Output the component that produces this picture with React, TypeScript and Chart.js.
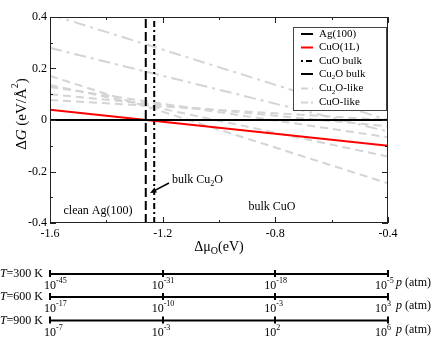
import React, { useEffect, useRef } from 'react';
import { Chart, registerables } from 'chart.js';

Chart.register(...registerables);

// ---- data ----
const MU_RANGE = [-1.6, -0.4];
const AG100 = [0, 0];
const CUO_1L = [0.04, -0.1];
const CUO_BULK_MU = -1.23;
const CU2O_BULK_MU = -1.26;
const CU2O_LIKE_START = [0.078, 0.1, 0.128, 0.136, 0.171];
const CU2O_LIKE_END = [0.0, -0.025, -0.067, -0.142, -0.246];
const CUO_LIKE_START = [0.41, 0.28];
const CUO_LIKE_END = [0.0, -0.045];
const X_TICKS = [-1.6, -1.2, -0.8, -0.4];
const Y_RANGE = [-0.4, 0.4];
const TEMPS = ['300', '600', '900'];
const P_EXP_300 = ['-45', '-31', '-18', '-5'];
const P_EXP_600 = ['-17', '-10', '-3', '3'];
const P_EXP_900 = ['-7', '-3', '2', '6'];
const LEGEND_LABELS = ['Ag(100)', 'CuO(1L)', 'CuO bulk', 'Cu2O bulk', 'Cu2O-like', 'CuO-like'];

const FONT = '"Liberation Serif", "Times New Roman", serif';
const GRAY = '#d4d4d4';

type Part = { t: string; s?: 'sub' | 'sup'; i?: boolean; z?: number };

function fontFor(p: Part, size: number) {
  const sz = p.z ? p.z : p.s ? Math.round(size * 0.68) : size;
  return `${p.i ? 'italic ' : ''}${sz}px ${FONT}`;
}
function richWidth(ctx: CanvasRenderingContext2D, parts: Part[], size: number) {
  let w = 0;
  for (const p of parts) {
    ctx.font = fontFor(p, size);
    w += ctx.measureText(p.t).width;
  }
  return w;
}
function drawRich(ctx: CanvasRenderingContext2D, parts: Part[], x: number, y: number, size: number, align: 'left' | 'center' | 'right' = 'left') {
  const total = richWidth(ctx, parts, size);
  let cx = align === 'center' ? x - total / 2 : align === 'right' ? x - total : x;
  ctx.textAlign = 'left';
  ctx.textBaseline = 'middle';
  for (const p of parts) {
    ctx.font = fontFor(p, size);
    const dy = p.s === 'sub' ? size * 0.3 : p.s === 'sup' ? -size * 0.42 : 0;
    ctx.fillText(p.t, cx, y + dy);
    cx += ctx.measureText(p.t).width;
  }
}
function labelParts(label: string): Part[] {
  if (label.startsWith('Cu2O')) return [{ t: 'Cu' }, { t: '2', s: 'sub' }, { t: 'O' + label.slice(4) }];
  return [{ t: label }];
}

const seg = (a: number, b: number) => [
  { x: MU_RANGE[0], y: a },
  { x: MU_RANGE[1], y: b },
];
const vert = (mu: number) => [
  { x: mu, y: Y_RANGE[0] },
  { x: mu, y: Y_RANGE[1] },
];

const DASH_CUO_BULK = [6, 3, 2, 3];
const DASH_CU2O_BULK = [9, 4];
const DASH_CU2O_LIKE = [8, 5];
const DASH_CUO_LIKE = [12, 5, 3, 5];

const overlay = {
  id: 'overlay',
  afterDraw(chart: any) {
    const ctx: CanvasRenderingContext2D = chart.ctx;
    const xs = chart.scales.x;
    const ys = chart.scales.y;
    const { left, right, top, bottom } = chart.chartArea;
    ctx.save();
    // frame
    ctx.strokeStyle = '#222';
    ctx.lineWidth = 1;
    ctx.strokeRect(left + 0.5, top + 0.5, right - left - 1, bottom - top - 1);
    // ticks
    ctx.beginPath();
    for (let k = 0; k <= 6; k++) {
      const v = MU_RANGE[0] + k * 0.2;
      const px = Math.round(xs.getPixelForValue(v)) + 0.5;
      const len = k % 2 === 0 ? 6 : 3;
      ctx.moveTo(px, bottom);
      ctx.lineTo(px, bottom - len);
      ctx.moveTo(px, top);
      ctx.lineTo(px, top + len);
    }
    for (let k = 0; k <= 8; k++) {
      const v = Y_RANGE[0] + k * 0.1;
      const py = Math.round(ys.getPixelForValue(v)) + 0.5;
      const len = k % 2 === 0 ? 6 : 3;
      ctx.moveTo(left, py);
      ctx.lineTo(left + len, py);
      ctx.moveTo(right, py);
      ctx.lineTo(right - len, py);
    }
    ctx.stroke();

    ctx.fillStyle = '#000';
    // axis titles
    drawRich(ctx, [{ t: 'Δμ' }, { t: 'O', s: 'sub' }, { t: '(eV)' }], (left + right) / 2, bottom + 24, 14, 'center');
    ctx.save();
    ctx.translate(22, (top + bottom) / 2 - 6);
    ctx.rotate(-Math.PI / 2);
    drawRich(ctx, [{ t: 'Δ' }, { t: 'G', i: true }, { t: ' (eV/Å' }, { t: '2', s: 'sup' }, { t: ')' }], 0, 0, 15, 'center');
    ctx.restore();

    // annotations
    drawRich(ctx, [{ t: 'clean Ag(100)' }], 98, 211, 12, 'center');
    drawRich(ctx, [{ t: 'bulk CuO' }], 272, 207, 12, 'center');
    drawRich(ctx, [{ t: 'bulk Cu' }, { t: '2', s: 'sub' }, { t: 'O' }], 172, 180, 12, 'left');
    // arrow
    const ax0 = 169, ay0 = 183, ax1 = 150, ay1 = 193;
    ctx.strokeStyle = '#000';
    ctx.lineWidth = 1.5;
    ctx.beginPath();
    ctx.moveTo(ax0, ay0);
    ctx.lineTo(ax1 + 3, ay1 - 1.6);
    ctx.stroke();
    const ang = Math.atan2(ay1 - ay0, ax1 - ax0);
    ctx.beginPath();
    ctx.moveTo(ax1, ay1);
    ctx.lineTo(ax1 - 7 * Math.cos(ang - 0.4), ay1 - 7 * Math.sin(ang - 0.4));
    ctx.lineTo(ax1 - 7 * Math.cos(ang + 0.4), ay1 - 7 * Math.sin(ang + 0.4));
    ctx.closePath();
    ctx.fill();

    // legend
    const lx = 293, ly = 27, lw = 94, lh = 84;
    ctx.fillStyle = '#fff';
    ctx.fillRect(lx, ly, lw, lh);
    ctx.strokeStyle = '#444';
    ctx.lineWidth = 1;
    ctx.strokeRect(lx + 0.5, ly + 0.5, lw - 1, lh - 1);
    const rowY = [34, 47.5, 61, 74, 88.5, 102.5];
    const legendStyles = [
      { c: '#000', d: [] as number[] },
      { c: '#ff0000', d: [] as number[] },
      { c: '#000', d: [2, 3, 6, 3] },
      { c: '#000', d: [] as number[] },
      { c: GRAY, d: [7, 4] },
      { c: GRAY, d: [7, 3, 3, 3] },
    ];
    LEGEND_LABELS.forEach((lab, i) => {
      ctx.strokeStyle = legendStyles[i].c;
      ctx.lineWidth = 2;
      ctx.setLineDash(legendStyles[i].d);
      ctx.beginPath();
      ctx.moveTo(301, rowY[i]);
      ctx.lineTo(313, rowY[i]);
      ctx.stroke();
      ctx.setLineDash([]);
      ctx.fillStyle = '#000';
      drawRich(ctx, labelParts(lab), 319, rowY[i], 11, 'left');
    });

    // pressure scales
    const rows = [P_EXP_300, P_EXP_600, P_EXP_900];
    const rowOffsets = [51, 74, 97.5];
    rows.forEach((exps, r) => {
      const yy = bottom + rowOffsets[r];
      const x0 = xs.getPixelForValue(MU_RANGE[0]);
      const x1 = xs.getPixelForValue(MU_RANGE[1]);
      ctx.strokeStyle = '#000';
      ctx.lineWidth = 2;
      ctx.beginPath();
      ctx.moveTo(x0, yy);
      ctx.lineTo(x1, yy);
      X_TICKS.forEach((v) => {
        const px = Math.round(xs.getPixelForValue(v));
        ctx.moveTo(px, yy - 4);
        ctx.lineTo(px, yy + 3);
      });
      ctx.stroke();
      ctx.fillStyle = '#000';
      X_TICKS.forEach((v, i) => {
        const px = xs.getPixelForValue(v);
        ctx.font = `12px ${FONT}`;
        const w10 = ctx.measureText('10').width;
        const shift = i === 0 ? 6 : i === X_TICKS.length - 1 ? -1 : 1;
        const start = px + shift - w10;
        drawRich(ctx, [{ t: '10' }, { t: exps[i], s: 'sup', z: 8 }], start, yy + 12, 12, 'left');
      });
      drawRich(ctx, [{ t: 'T', i: true }, { t: '=' + TEMPS[r] + ' K' }], 43, yy, 12, 'right');
      drawRich(ctx, [{ t: 'p', i: true }, { t: ' (atm)' }], 396, yy + 9, 12, 'left');
    });
    ctx.restore();
  },
};

export default function App() {
  const ref = useRef<HTMLCanvasElement | null>(null);
  useEffect(() => {
    if (!ref.current) return;
    const base = { pointRadius: 0, borderWidth: 2, fill: false, tension: 0 };
    const datasets: any[] = [
      { ...base, label: LEGEND_LABELS[0], data: seg(AG100[0], AG100[1]), borderColor: '#000', order: 0 },
      { ...base, label: LEGEND_LABELS[1], data: seg(CUO_1L[0], CUO_1L[1]), borderColor: '#ff0000', order: 0 },
      { ...base, label: LEGEND_LABELS[2], data: vert(CUO_BULK_MU), borderColor: '#000', borderDash: DASH_CUO_BULK, order: 0 },
      { ...base, label: LEGEND_LABELS[3], data: vert(CU2O_BULK_MU), borderColor: '#000', borderDash: DASH_CU2O_BULK, order: 0 },
    ];
    CU2O_LIKE_START.forEach((s, i) => {
      datasets.push({ ...base, label: LEGEND_LABELS[4], data: seg(s, CU2O_LIKE_END[i]), borderColor: GRAY, borderDash: DASH_CU2O_LIKE, order: 1 });
    });
    CUO_LIKE_START.forEach((s, i) => {
      datasets.push({ ...base, label: LEGEND_LABELS[5], data: seg(s, CUO_LIKE_END[i]), borderColor: GRAY, borderDash: DASH_CUO_LIKE, order: 1 });
    });
    const chart = new Chart(ref.current, {
      type: 'line',
      data: { datasets },
      options: {
        animation: false,
        responsive: false,
        devicePixelRatio: 1,
        layout: { padding: { left: 10, top: 17, right: 49, bottom: 95 } },
        plugins: { legend: { display: false }, tooltip: { enabled: false } },
        scales: {
          x: {
            type: 'linear',
            min: MU_RANGE[0],
            max: MU_RANGE[1],
            grid: { display: false, drawTicks: false },
            border: { display: false },
            afterFit: (s: any) => { s.height = 20; },
            ticks: {
              stepSize: 0.4,
              padding: 4,
              color: '#000',
              font: { family: FONT, size: 12 },
              callback: (v: any) => Number(v).toFixed(1),
            },
          },
          y: {
            type: 'linear',
            min: Y_RANGE[0],
            max: Y_RANGE[1],
            grid: { display: false, drawTicks: false },
            border: { display: false },
            afterFit: (s: any) => { s.width = 40; },
            ticks: {
              stepSize: 0.2,
              padding: 3,
              color: '#000',
              font: { family: FONT, size: 12 },
              callback: (v: any) => (Math.abs(Number(v)) < 1e-9 ? '0' : Number(v).toFixed(1)),
            },
          },
        },
      },
      plugins: [overlay],
    } as any);
    return () => chart.destroy();
  }, []);
  return (
    <div style={{ position: 'absolute', left: 0, top: 0, width: 437, height: 338, background: '#fff' }}>
      <canvas ref={ref} width={437} height={338} style={{ display: 'block' }} />
    </div>
  );
}
